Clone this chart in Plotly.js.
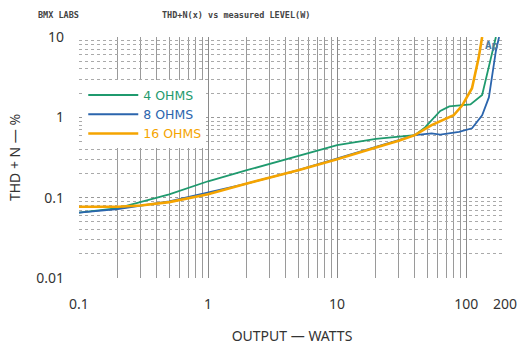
<!DOCTYPE html>
<html><head><meta charset="utf-8">
<script src="https://cdn.plot.ly/plotly-3.0.1.min.js"></script>
<style>html,body{margin:0;padding:0;background:#fff}#c{width:524px;height:345px}</style>
</head><body><div id="c"></div>
<script>
const names = ['4 OHMS', '8 OHMS', '16 OHMS'];
const colors = ['#1f9a6e', '#2b65ad', '#f5a400'];
const watts4 = [0.1, 0.2, 0.5, 1, 2, 5, 10, 20, 30, 40, 48, 54, 63, 74, 90, 108, 133, 150, 170];
const thd4   = [0.065, 0.074, 0.11, 0.16, 0.22, 0.33, 0.45, 0.54, 0.58, 0.6, 0.75, 0.92, 1.2, 1.37, 1.4, 1.45, 1.9, 4.5, 10];
const watts8 = [0.1, 0.2, 0.5, 1, 2, 5, 10, 20, 30, 40, 54, 63, 88, 111, 133, 150, 170, 180];
const thd8   = [0.065, 0.072, 0.09, 0.115, 0.15, 0.22, 0.31, 0.43, 0.52, 0.6, 0.63, 0.61, 0.66, 0.73, 1.06, 1.77, 6.7, 10];
const watts16 = [0.1, 0.2, 0.3, 0.5, 1, 2, 5, 10, 20, 30, 40, 54, 80, 93, 111, 125, 133];
const thd16   = [0.077, 0.077, 0.08, 0.088, 0.11, 0.15, 0.22, 0.30, 0.42, 0.51, 0.6, 0.8, 1.06, 1.4, 2.3, 5.5, 10];
const xTickVals = [0.1, 1, 10, 100, 200];
const xTickText = ['0.1', '1', '10', '100', '200'];
const yTickVals = [0.01, 0.1, 1, 10];
const yTickText = ['0.01', '0.1', '1', '10'];

const series = [[watts4, thd4], [watts8, thd8], [watts16, thd16]];
const widths = [1.8, 1.8, 2.6];
const traces = series.map((s, i) => ({
  x: s[0], y: s[1], type: 'scatter', mode: 'lines',
  name: '<span style="color:' + colors[i] + '">' + names[i] + '</span>',
  line: {color: colors[i], width: widths[i]}
}));

const font = 'Noto Sans, DejaVu Sans, sans-serif';
const layout = {
  width: 524, height: 345,
  margin: {l: 79, r: 19, t: 37, b: 67},
  paper_bgcolor: '#fff', plot_bgcolor: '#fff',
  showlegend: true,
  legend: {x: 0.01, y: 0.82, xanchor: 'left', yanchor: 'top', bgcolor: '#fff',
           font: {family: 'DejaVu Sans, sans-serif', size: 12.5}, tracegroupgap: 0, itemwidth: 50,
           borderwidth: 0},
  xaxis: {type: 'log', range: [-1, Math.log10(200)], tickvals: xTickVals, ticktext: xTickText,
          showgrid: true, gridcolor: '#8a8a8a', gridwidth: 1, zeroline: false,
          showline: false, ticks: '', ticklabelstandoff: 16, tickfont: {family: font, size: 14, color: '#333'},
          minor: {tickvals: [0.2,0.3,0.4,0.5,0.6,0.7,0.8,0.9,2,3,4,5,6,7,8,9,20,30,40,50,60,70,80,90], showgrid: true, gridcolor: '#9a9a9a', gridwidth: 1},
          title: {text: 'OUTPUT — WATTS', font: {family: font, size: 14, color: '#333'}, standoff: 21}},
  yaxis: {type: 'log', range: [-2, 1], tickvals: yTickVals, ticktext: yTickText,
          showgrid: true, gridcolor: '#999', griddash: 'dot', gridwidth: 1, zeroline: false,
          showline: false, ticks: '', ticklabelstandoff: 14, tickfont: {family: font, size: 14, color: '#333'},
          minor: {dtick: 'D1', showgrid: true, gridcolor: '#aaa', griddash: 'dot', gridwidth: 1},
          title: {text: 'THD + N — %', font: {family: font, size: 14, color: '#333'}, standoff: 12}},
  annotations: [
    {text: 'BMX LABS', x: 36, y: 15},
    {text: 'THD+N(x) vs measured LEVEL(W)', x: 160, y: 15},
    {text: 'Ap', x: 492, y: 46, color: '#4a7aa0'}
  ].map(a => ({
    text: a.text, xref: 'paper', yref: 'paper',
    x: (a.x - 79) / 426, y: 1 - (a.y - 37) / 241,
    xanchor: a.text === 'Ap' ? 'center' : 'left', yanchor: 'middle', showarrow: false,
    font: {family: 'DejaVu Sans Mono, Liberation Mono, monospace', size: a.text === 'Ap' ? 11 : 8.5, color: a.color || '#444', weight: 600}
  }))
};
Plotly.newPlot('c', traces, layout, {displayModeBar: false, staticPlot: true});
</script></body></html>
